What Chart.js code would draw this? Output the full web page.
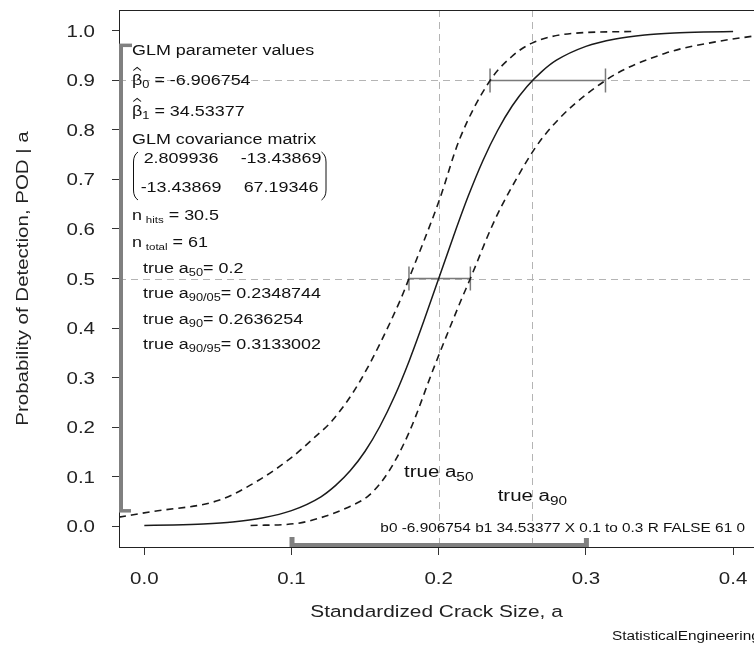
<!DOCTYPE html>
<html>
<head>
<meta charset="utf-8">
<title>POD vs crack size</title>
<script src="https://cdn.jsdelivr.net/npm/chart.js@4.4.1/dist/chart.umd.min.js"></script>
<style>
  html, body { margin: 0; padding: 0; background: #fff; }
  #wrap { width: 754px; height: 647px; }
</style>
</head>
<body>
<div id="wrap"><canvas id="podChart" width="754" height="647"></canvas></div>
<script>
// fitted POD(a) curve
const podA = [0, 0.02, 0.04, 0.06, 0.08, 0.10, 0.12, 0.13, 0.14, 0.15, 0.16, 0.17, 0.18, 0.19, 0.20,
              0.21, 0.22, 0.23, 0.24, 0.25, 0.26, 0.27, 0.28, 0.30, 0.32, 0.34, 0.36, 0.38, 0.40];
const podP = [0.001, 0.002, 0.004, 0.008, 0.016, 0.031, 0.059, 0.082, 0.112, 0.151, 0.201, 0.262, 0.334, 0.415, 0.500,
              0.585, 0.666, 0.738, 0.799, 0.849, 0.888, 0.918, 0.941, 0.969, 0.984, 0.992, 0.996, 0.998, 0.999];

// 95% bound on the left side of the curve
const upperA = [-0.0172, 0.005, 0.0506, 0.078, 0.1007, 0.116, 0.128, 0.147, 0.174, 0.1798, 0.2005, 0.214,
                0.2349, 0.2495, 0.263, 0.2905, 0.3315];
const upperP = [0.018, 0.029, 0.052, 0.093, 0.140, 0.180, 0.214, 0.295, 0.457, 0.500, 0.659, 0.780,
                0.900, 0.948, 0.975, 0.995, 0.999];

// 95% bound on the right side of the curve
const lowerA = [0.0722, 0.103, 0.119, 0.137, 0.153, 0.166, 0.180, 0.197, 0.2153, 0.2215, 0.237,
                0.2484, 0.271, 0.3133, 0.354, 0.388, 0.4142];
const lowerP = [0.001, 0.005, 0.016, 0.036, 0.063, 0.110, 0.190, 0.322, 0.457, 0.500, 0.611,
                0.678, 0.786, 0.900, 0.955, 0.978, 0.990];

const xTicks = [0, 0.1, 0.2, 0.3, 0.4];
const xTickLabels = ['0.0', '0.1', '0.2', '0.3', '0.4'];
const yTicks = [0, 0.1, 0.2, 0.3, 0.4, 0.5, 0.6, 0.7, 0.8, 0.9, 1.0];
const yTickLabels = ['0.0', '0.1', '0.2', '0.3', '0.4', '0.5', '0.6', '0.7', '0.8', '0.9', '1.0'];

const refLevels = [0.5, 0.9];
const a50 = 0.2;
const a90 = 0.2636254;
const a50Interval = [0.1798, 0.2215];
const a90Interval = [0.2348744, 0.3133002];
const podRange = [0.0307, 0.969];
const sizeRange = [0.1, 0.3];

const FONT = '"Liberation Sans", Arial, sans-serif';
const STRETCH = 1.28;

function pts(xs, ys) {
    return xs.map((v, i) => ({ x: v, y: ys[i] }));
}

function seg(ctx, x0, y0, x1, y1) {
    ctx.beginPath();
    ctx.moveTo(x0, y0);
    ctx.lineTo(x1, y1);
    ctx.stroke();
}

// draws a row of text pieces (sub/superscripts via size + dy), widened like the R device output
function runs(ctx, x, y, parts, align, angle) {
    ctx.save();
    ctx.translate(x, y);
    if (angle) ctx.rotate(angle);
    ctx.scale(STRETCH, 1);
    ctx.textBaseline = 'alphabetic';
    ctx.textAlign = 'left';
    let total = 0;
    const widths = parts.map(p => {
        ctx.font = (p.size || 14) + 'px ' + FONT;
        const w = ctx.measureText(p.t).width;
        total += w + (p.gap || 0);
        return w;
    });
    let cx = align === 'center' ? -total / 2 : align === 'right' ? -total : 0;
    parts.forEach((p, i) => {
        cx += p.gap || 0;
        ctx.font = (p.size || 14) + 'px ' + FONT;
        ctx.fillText(p.t, cx, p.dy || 0);
        if (p.hat) {
            ctx.lineWidth = 0.9;
            ctx.beginPath();
            ctx.moveTo(cx + 1, -14.5);
            ctx.lineTo(cx + widths[i] / 2, -17.5);
            ctx.lineTo(cx + widths[i] - 1, -14.5);
            ctx.stroke();
        }
        cx += widths[i];
    });
    ctx.restore();
}

const podOverlay = {
    id: 'podOverlay',
    beforeDatasetsDraw(chart) {
        const { ctx, chartArea: ca, scales: { x, y } } = chart;
        ctx.save();
        // reference levels and true a50 / a90
        ctx.strokeStyle = '#b4b4b4';
        ctx.lineWidth = 1;
        ctx.setLineDash([7, 5]);
        refLevels.forEach(p => {
            const py = Math.round(y.getPixelForValue(p)) + 0.5;
            seg(ctx, ca.left, py, ca.right, py);
        });
        [a50, a90].forEach(a => {
            const px = Math.round(x.getPixelForValue(a)) + 0.5;
            seg(ctx, px, ca.top, px, ca.bottom);
        });
        ctx.setLineDash([]);

        // a50 and a90/95 intervals
        ctx.strokeStyle = '#7a7a7a';
        ctx.lineWidth = 1.5;
        [[a50Interval, refLevels[0]], [a90Interval, refLevels[1]]].forEach(([iv, p]) => {
            const py = y.getPixelForValue(p);
            const x0 = x.getPixelForValue(iv[0]);
            const x1 = x.getPixelForValue(iv[1]);
            seg(ctx, x0, py, x1, py);
            seg(ctx, x0, py - 12, x0, py + 12);
            seg(ctx, x1, py - 12, x1, py + 12);
        });
        ctx.restore();
    },
    afterDatasetsDraw(chart) {
        const { ctx, chartArea: ca, scales: { x, y } } = chart;
        ctx.save();

        // plot frame (right side falls off the canvas)
        ctx.strokeStyle = '#222';
        ctx.lineWidth = 1;
        ctx.strokeRect(Math.round(ca.left) + 0.5, Math.round(ca.top) + 0.5, ca.right - ca.left + 8, ca.bottom - ca.top);

        // thick range markers along the axes
        ctx.strokeStyle = '#808080';
        ctx.lineWidth = 4;
        const yTop = y.getPixelForValue(podRange[1]);
        const yBot = y.getPixelForValue(podRange[0]);
        seg(ctx, ca.left + 2, yTop, ca.left + 2, yBot);
        ctx.lineWidth = 3.5;
        seg(ctx, ca.left, yTop - 1, ca.left + 13, yTop - 1);
        seg(ctx, ca.left, yBot, ca.left + 12, yBot);
        ctx.lineWidth = 4;
        const xL = x.getPixelForValue(sizeRange[0]);
        const xR = x.getPixelForValue(sizeRange[1]);
        seg(ctx, xL, ca.bottom - 2, xR, ca.bottom - 2);
        ctx.lineWidth = 5;
        seg(ctx, xL + 0.5, ca.bottom, xL + 0.5, ca.bottom - 10);
        seg(ctx, xR + 0.5, ca.bottom, xR + 0.5, ca.bottom - 9);

        // tick labels
        ctx.fillStyle = '#222';
        xTicks.forEach((v, i) => {
            runs(ctx, x.getPixelForValue(v), ca.bottom + 37, [{ t: xTickLabels[i], size: 16 }], 'center');
        });
        yTicks.forEach((v, i) => {
            runs(ctx, ca.left - 24, y.getPixelForValue(v) + 6, [{ t: yTickLabels[i], size: 16 }], 'right');
        });

        // axis titles
        runs(ctx, (ca.left + 754) / 2, ca.bottom + 70, [{ t: 'Standardized Crack Size, a', size: 16.3 }], 'center');
        runs(ctx, 28, (ca.top + ca.bottom) / 2, [{ t: 'Probability of Detection, POD | a', size: 16 }], 'center', -Math.PI / 2);

        // GLM summary block
        ctx.fillStyle = '#111';
        ctx.strokeStyle = '#111';
        const L = ca.left + 13;
        const L2 = ca.left + 24;
        const T = ca.top;
        runs(ctx, L, T + 45, [{ t: 'GLM parameter values' }]);
        runs(ctx, L, T + 75, [{ t: 'β', hat: true }, { t: '0', size: 10, dy: 3 }, { t: ' = -6.906754' }]);
        runs(ctx, L, T + 106, [{ t: 'β', hat: true }, { t: '1', size: 10, dy: 3 }, { t: ' = 34.53377' }]);
        runs(ctx, L, T + 134, [{ t: 'GLM covariance matrix' }]);
        runs(ctx, L + 49, T + 153, [{ t: '2.809936' }], 'center');
        runs(ctx, L + 149, T + 153, [{ t: '-13.43869' }], 'center');
        runs(ctx, L + 49, T + 182, [{ t: '-13.43869' }], 'center');
        runs(ctx, L + 149, T + 182, [{ t: '67.19346' }], 'center');
        // matrix parentheses
        ctx.lineWidth = 1;
        ctx.beginPath();
        ctx.moveTo(L + 6, T + 142);
        ctx.quadraticCurveTo(L + 1.5, T + 145, L + 1.5, T + 152);
        ctx.lineTo(L + 1.5, T + 180);
        ctx.quadraticCurveTo(L + 1.5, T + 187, L + 6, T + 190);
        ctx.stroke();
        const R = L + 194;
        ctx.beginPath();
        ctx.moveTo(R - 4.5, T + 142);
        ctx.quadraticCurveTo(R, T + 145, R, T + 152);
        ctx.lineTo(R, T + 180);
        ctx.quadraticCurveTo(R, T + 187, R - 4.5, T + 190);
        ctx.stroke();

        runs(ctx, L, T + 210, [{ t: 'n' }, { t: 'hits', size: 9, dy: 3, gap: 3 }, { t: ' = 30.5' }]);
        runs(ctx, L, T + 237, [{ t: 'n' }, { t: 'total', size: 9, dy: 3, gap: 3 }, { t: ' = 61' }]);
        runs(ctx, L2, T + 263, [{ t: 'true a' }, { t: '50', size: 10, dy: 3 }, { t: '= 0.2' }]);
        runs(ctx, L2, T + 288, [{ t: 'true a' }, { t: '90/05', size: 10, dy: 3 }, { t: '= 0.2348744' }]);
        runs(ctx, L2, T + 314, [{ t: 'true a' }, { t: '90', size: 10, dy: 3 }, { t: '= 0.2636254' }]);
        runs(ctx, L2, T + 339, [{ t: 'true a' }, { t: '90/95', size: 10, dy: 3 }, { t: '= 0.3133002' }]);

        // labels under the curve
        runs(ctx, x.getPixelForValue(a50), y.getPixelForValue(0.1),
            [{ t: 'true a', size: 16 }, { t: '50', size: 12, dy: 4 }], 'center');
        runs(ctx, x.getPixelForValue(a90), y.getPixelForValue(0.05),
            [{ t: 'true a', size: 16 }, { t: '90', size: 12, dy: 4 }], 'center');

        // run settings line and footer
        runs(ctx, 745, ca.bottom - 15, [{ t: 'b0 -6.906754 b1 34.53377 X 0.1 to 0.3 R FALSE 61 0', size: 12 }], 'right');
        runs(ctx, 612, 640, [{ t: 'StatisticalEngineering.com', size: 12 }]);
        ctx.restore();
    }
};

const curveStyle = { showLine: true, pointRadius: 0, borderColor: '#1a1a1a', cubicInterpolationMode: 'monotone', fill: false };

new Chart(document.getElementById('podChart'), {
    type: 'scatter',
    data: {
        datasets: [
            Object.assign({ label: 'POD', data: pts(podA, podP), borderWidth: 1.5 }, curveStyle),
            Object.assign({ label: 'upper bound', data: pts(upperA, upperP), borderWidth: 1.6, borderDash: [7, 5] }, curveStyle),
            Object.assign({ label: 'lower bound', data: pts(lowerA, lowerP), borderWidth: 1.6, borderDash: [7, 5] }, curveStyle)
        ]
    },
    options: {
        responsive: false,
        animation: false,
        layout: { padding: { top: 10, left: 0, right: 0, bottom: 0 } },
        plugins: { legend: { display: false }, tooltip: { enabled: false } },
        scales: {
            x: {
                type: 'linear',
                min: -0.0172,
                max: 0.4142,
                afterBuildTicks: s => { s.ticks = xTicks.map(v => ({ value: v })); },
                afterFit: s => { s.height = 100; },
                ticks: { display: false },
                grid: { drawOnChartArea: false, drawTicks: true, tickLength: 8, color: '#333' },
                border: { display: false }
            },
            y: {
                type: 'linear',
                min: -0.0424,
                max: 1.0424,
                afterBuildTicks: s => { s.ticks = yTicks.map(v => ({ value: v })); },
                afterFit: s => { s.width = 119; },
                ticks: { display: false },
                grid: { drawOnChartArea: false, drawTicks: true, tickLength: 7, color: '#333' },
                border: { display: false }
            }
        }
    },
    plugins: [podOverlay]
});
</script>
</body>
</html>
